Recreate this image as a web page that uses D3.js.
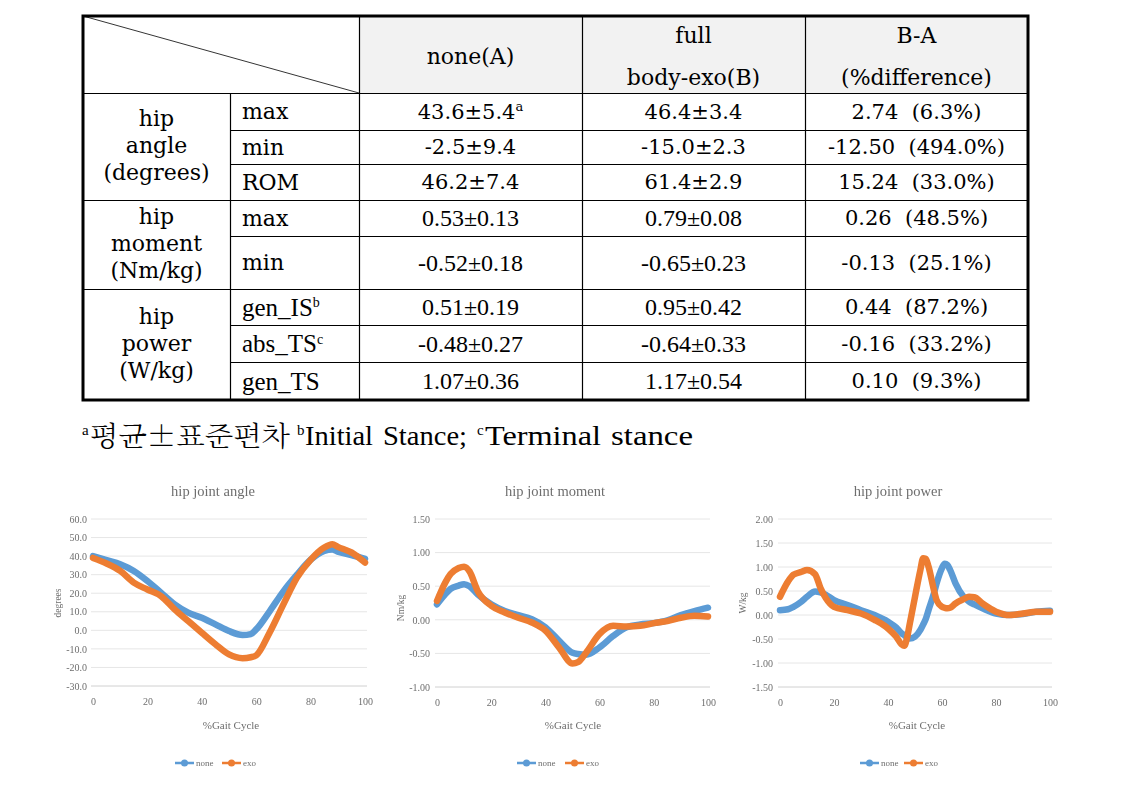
<!DOCTYPE html>
<html><head><meta charset="utf-8">
<script src="https://cdn.jsdelivr.net/npm/d3@7"></script>
<style>body{margin:0;background:#fff}svg{display:block}</style>
</head><body>
<svg id="c" width="1131" height="797"></svg>
<script>
// ---------------- TABLE DATA ----------------
const colHeaders = [["none(A)"], ["full", "body-exo(B)"], ["B-A", "(%difference)"]];
const groupLabels = [["hip", "angle", "(degrees)"], ["hip", "moment", "(Nm/kg)"], ["hip", "power", "(W/kg)"]];
const rowLabels = ["max", "min", "ROM", "max", "min", "gen_IS", "abs_TS", "gen_TS"];
const rowLabelSup = ["", "", "", "", "", "b", "c", ""];
const rowGroup = [0, 0, 0, 1, 1, 2, 2, 2];
const noneVals = ["43.6±5.4", "-2.5±9.4", "46.2±7.4", "0.53±0.13", "-0.52±0.18", "0.51±0.19", "-0.48±0.27", "1.07±0.36"];
const noneSup = ["a", "", "", "", "", "", "", ""];
const exoVals = ["46.4±3.4", "-15.0±2.3", "61.4±2.9", "0.79±0.08", "-0.65±0.23", "0.95±0.42", "-0.64±0.33", "1.17±0.54"];
const diffVals = ["2.74  (6.3%)", "-12.50  (494.0%)", "15.24  (33.0%)", "0.26  (48.5%)", "-0.13  (25.1%)", "0.44  (87.2%)", "-0.16  (33.2%)", "0.10  (9.3%)"];
const footKorean = "평균±표준편차";
const footWords = ["Initial", "Stance;", "Terminal", "stance"];

// ---------------- CHART DATA ----------------
const gaitTicks = [0, 20, 40, 60, 80, 100];
const chartTitles = ["hip joint angle", "hip joint moment", "hip joint power"];
const yTitles = ["degrees", "Nm/kg", "W/kg"];
const xTitle = "%Gait Cycle";
const seriesNames = ["none", "exo"];

const angleX    = [0, 5, 10, 15, 20, 25, 30, 35, 40, 45, 50, 55, 58, 60, 65, 70, 75, 80, 85, 88, 90, 95, 100];
const angleNone = [40, 37.8, 35.6, 32, 26.6, 20.3, 14, 9.5, 6.8, 3.2, -0.4, -2.5, -2, 0.5, 10.4, 21, 30, 38, 42.8, 43.6, 42.4, 40.6, 38.5];
const angleExo  = [39, 36, 32, 25.7, 22, 18.5, 11.3, 5, -1.3, -7.5, -13, -15, -14.5, -13.5, -1, 14, 28.4, 38, 44.6, 46.4, 45, 42, 36.5];
const angleTicks = [-30, -20, -10, 0, 10, 20, 30, 40, 50, 60];

const momentX    = [0, 3, 5, 8, 10, 12, 15, 20, 25, 30, 35, 40, 45, 50, 52, 55, 60, 65, 70, 75, 80, 85, 90, 95, 100];
const momentNone = [0.23, 0.38, 0.46, 0.51, 0.53, 0.5, 0.38, 0.23, 0.13, 0.07, 0.01, -0.11, -0.31, -0.49, -0.51, -0.52, -0.41, -0.24, -0.11, -0.07, -0.05, -0.01, 0.07, 0.13, 0.18];
const momentExo  = [0.28, 0.55, 0.68, 0.77, 0.79, 0.72, 0.43, 0.21, 0.11, 0.03, -0.04, -0.16, -0.41, -0.65, -0.63, -0.49, -0.21, -0.09, -0.1, -0.09, -0.05, -0.02, 0.03, 0.06, 0.05];
const momentTicks = [-1.0, -0.5, 0, 0.5, 1.0, 1.5];

const powerX    = [0, 3, 5, 8, 10, 13, 15, 17, 20, 25, 30, 35, 40, 43, 45, 46, 47, 48, 50, 52, 53, 54, 55, 57, 58, 60, 61, 62, 63, 65, 68, 70, 72, 75, 80, 85, 90, 95, 100];
const powerNone = [0.10, 0.12, 0.17, 0.28, 0.38, 0.49, 0.47, 0.42, 0.31, 0.21, 0.10, 0, -0.14, -0.26, -0.38, -0.42, -0.46, -0.49, -0.45, -0.31, -0.2, -0.08, 0.1, 0.45, 0.66, 0.98, 1.07, 1.04, 0.94, 0.66, 0.38, 0.28, 0.22, 0.14, 0.03, 0, 0.02, 0.07, 0.09];
const powerExo  = [0.38, 0.70, 0.84, 0.9, 0.94, 0.85, 0.56, 0.35, 0.17, 0.10, 0.03, -0.10, -0.28, -0.45, -0.61, -0.64, -0.49, -0.2, 0.38, 0.94, 1.18, 1.17, 1.01, 0.52, 0.31, 0.17, 0.15, 0.14, 0.15, 0.24, 0.33, 0.38, 0.37, 0.24, 0.07, 0, 0.03, 0.07, 0.07];
const powerTicks = [-1.5, -1.0, -0.5, 0, 0.5, 1.0, 1.5, 2.0];

// ---------------- DRAW TABLE ----------------
const svg = d3.select("#c");
const T = {left: 83, right: 1028, top: 16, bottom: 400, headBottom: 93,
  cols: [230, 359, 582, 805],
  rowEdges: [93, 130, 164, 200, 236, 289, 325, 362, 400],
  groupEdges: [93, 200, 289, 400]};
const tbl = svg.append("g");
const palFont = "'DejaVu Serif', serif";
const timesFont = "'Liberation Serif', 'Times New Roman', serif";

tbl.append("rect").attr("x", T.cols[1]).attr("y", T.top).attr("width", T.right - T.cols[1]).attr("height", T.headBottom - T.top).attr("fill", "#f2f2f2");
tbl.append("line").attr("x1", T.left).attr("y1", T.top).attr("x2", T.cols[1]).attr("y2", T.headBottom).attr("stroke", "#000").attr("stroke-width", 0.8);
T.rowEdges.slice(0, -1).forEach((y) => {
  const isGroup = T.groupEdges.includes(y);
  tbl.append("line").attr("x1", isGroup ? T.left : T.cols[0]).attr("x2", T.right).attr("y1", y + 0.5).attr("y2", y + 0.5).attr("stroke", "#000").attr("stroke-width", 1.2);
});
T.cols.forEach((x, i) => {
  tbl.append("line").attr("x1", x + 0.5).attr("x2", x + 0.5).attr("y1", i === 0 ? T.headBottom : T.top).attr("y2", T.bottom).attr("stroke", "#000").attr("stroke-width", 1.2);
});
tbl.append("rect").attr("x", T.left).attr("y", T.top).attr("width", T.right - T.left).attr("height", T.bottom - T.top).attr("fill", "none").attr("stroke", "#000").attr("stroke-width", 3);

const colCenters = [(T.cols[1] + T.cols[2]) / 2, (T.cols[2] + T.cols[3]) / 2, (T.cols[3] + T.right) / 2];
colHeaders.forEach((lines, i) => {
  const ys = lines.length === 1 ? [56] : [35, 77];
  lines.forEach((t, j) => {
    tbl.append("text").attr("x", colCenters[i]).attr("y", ys[j]).attr("dy", "0.35em").attr("text-anchor", "middle")
      .attr("font-family", palFont).attr("font-size", 22).text(t);
  });
});
groupLabels.forEach((lines, g) => {
  const cy = (T.groupEdges[g] + T.groupEdges[g + 1]) / 2;
  lines.forEach((t, j) => {
    tbl.append("text").attr("x", (T.left + T.cols[0]) / 2).attr("y", cy + (j - 1) * 27 - 1).attr("dy", "0.35em").attr("text-anchor", "middle")
      .attr("font-family", palFont).attr("font-size", 22).text(t);
  });
});
rowLabels.forEach((lab, r) => {
  const cy = (T.rowEdges[r] + T.rowEdges[r + 1]) / 2;
  const isPal = rowGroup[r] === 0;
  const lt = tbl.append("text").attr("x", 242).attr("y", cy).attr("dy", "0.35em")
    .attr("font-family", rowGroup[r] === 2 ? timesFont : palFont).attr("font-size", rowGroup[r] === 2 ? 25 : 22).text(lab);
  if (rowLabelSup[r]) lt.append("tspan").attr("dy", "-0.6em").attr("font-size", 14).text(rowLabelSup[r]);
  const vf = isPal ? palFont : timesFont, vs = isPal ? 21 : 24;
  const t1 = tbl.append("text").attr("x", colCenters[0]).attr("y", cy).attr("dy", "0.35em").attr("text-anchor", "middle")
    .attr("font-family", vf).attr("font-size", vs).text(noneVals[r]);
  if (noneSup[r]) t1.append("tspan").attr("dy", "-0.6em").attr("font-size", 13).text(noneSup[r]);
  tbl.append("text").attr("x", colCenters[1]).attr("y", cy).attr("dy", "0.35em").attr("text-anchor", "middle")
    .attr("font-family", vf).attr("font-size", vs).text(exoVals[r]);
  tbl.append("text").attr("x", colCenters[2]).attr("y", cy).attr("dy", "0.35em").attr("text-anchor", "middle")
    .attr("font-family", palFont).attr("font-size", 21).style("white-space", "pre").text(diffVals[r]);
});

// footnote
const fn = svg.append("g").attr("font-family", timesFont).attr("fill", "#000");
fn.append("text").attr("x", 82).attr("y", 435).attr("font-size", 15).text("a");
fn.append("text").attr("x", 90).attr("y", 446).attr("font-family", "'Noto Serif CJK KR', 'Noto Sans CJK KR', sans-serif").attr("font-size", 27)
  .attr("font-weight", 300).attr("textLength", 200).attr("lengthAdjust", "spacingAndGlyphs").text(footKorean);
fn.append("text").attr("x", 297).attr("y", 435).attr("font-size", 15).text("b");
fn.append("text").attr("x", 477).attr("y", 435).attr("font-size", 15).text("c");
const wordPos = [[305, 68], [383, 84], [485, 116], [611, 82]];
footWords.forEach((w, i) => {
  fn.append("text").attr("x", wordPos[i][0]).attr("y", 445).attr("font-size", 27)
    .attr("textLength", wordPos[i][1]).attr("lengthAdjust", "spacingAndGlyphs").text(w);
});

// ---------------- DRAW CHARTS ----------------
const defs = svg.append("defs");
defs.append("filter").attr("id", "blur").attr("x", "-5%").attr("y", "-5%").attr("width", "110%").attr("height", "110%")
  .append("feGaussianBlur").attr("stdDeviation", 0.7);
const colors = ["#5b9bd5", "#ed7d31"];
const chartFont = "'Liberation Serif', serif";
const textCol = "#6e6e6e";
const hyph = f => d => d3.format(f)(d).replace("\u2212", "-");

const charts = [
  {x0: 93, x1: 365, yTop: 519, yBot: 686, ticks: angleTicks, fmt: ".1f", labR: 87, cx: 213, xtx: 231, ytx: 58, yty: 603,
   xs: angleX, s: [angleNone, angleExo], leg: [175, 222]},
  {x0: 437, x1: 708, yTop: 519, yBot: 687, ticks: momentTicks, fmt: ".2f", labR: 430, cx: 555, xtx: 573, ytx: 401, yty: 608,
   xs: momentX, s: [momentNone, momentExo], leg: [517, 565]},
  {x0: 780, x1: 1050, yTop: 519, yBot: 687, ticks: powerTicks, fmt: ".2f", labR: 773, cx: 898, xtx: 917, ytx: 743, yty: 603,
   xs: powerX, s: [powerNone, powerExo], leg: [860, 904]}
];

charts.forEach((c, ci) => {
  const g = svg.append("g").attr("filter", "url(#blur)").attr("font-family", chartFont);
  const x = d3.scaleLinear().domain([0, 100]).range([c.x0, c.x1]);
  const y = d3.scaleLinear().domain([c.ticks[0], c.ticks[c.ticks.length - 1]]).range([c.yBot, c.yTop]);
  g.append("g").selectAll("line").data(c.ticks).join("line")
    .attr("x1", c.x0 - 2).attr("x2", c.x1 + 2).attr("y1", d => y(d)).attr("y2", d => y(d))
    .attr("stroke", d => d === c.ticks[0] ? "#d0d0d0" : "#e6e6e6").attr("stroke-width", 1);
  const ya = g.append("g").attr("transform", `translate(${c.x0},0)`)
    .call(d3.axisLeft(y).tickValues(c.ticks).tickFormat(hyph(c.fmt)).tickSize(0).tickPadding(c.x0 - c.labR));
  ya.select(".domain").remove();
  ya.selectAll("text").attr("font-family", chartFont).attr("font-size", 10).attr("fill", textCol);
  const xa = g.append("g").attr("transform", `translate(0,${c.yBot})`)
    .call(d3.axisBottom(x).tickValues(gaitTicks).tickFormat(d3.format("d")).tickSize(0).tickPadding(12));
  xa.select(".domain").remove();
  xa.selectAll("text").attr("font-family", chartFont).attr("font-size", 10).attr("fill", textCol);
  g.append("text").attr("x", c.cx).attr("y", 491).attr("dy", "0.35em").attr("text-anchor", "middle")
    .attr("font-size", 14.5).attr("fill", textCol).text(chartTitles[ci]);
  g.append("text").attr("x", c.xtx).attr("y", 725).attr("dy", "0.35em").attr("text-anchor", "middle")
    .attr("font-size", 11).attr("fill", textCol).text(xTitle);
  g.append("text").attr("transform", `translate(${c.ytx},${c.yty}) rotate(-90)`).attr("dy", "0.35em").attr("text-anchor", "middle")
    .attr("font-size", 9.5).attr("fill", textCol).text(yTitles[ci]);
  const line = d3.line().x(d => x(d[0])).y(d => y(d[1])).curve(d3.curveMonotoneX);
  c.s.forEach((vals, si) => {
    const pts = c.xs.map((p, k) => [p, vals[k]]);
    g.append("path").datum(pts).attr("d", line).attr("fill", "none").attr("stroke", colors[si])
      .attr("stroke-width", 6.5).attr("stroke-linejoin", "round").attr("stroke-linecap", "round");
  });
  seriesNames.forEach((n, si) => {
    const lx = c.leg[si];
    g.append("line").attr("x1", lx).attr("x2", lx + 19).attr("y1", 763).attr("y2", 763).attr("stroke", colors[si]).attr("stroke-width", 2.5);
    g.append("circle").attr("cx", lx + 9.5).attr("cy", 763).attr("r", 3.5).attr("fill", colors[si]);
    g.append("text").attr("x", lx + 21).attr("y", 763).attr("dy", "0.35em").attr("font-size", 9).attr("fill", textCol).text(n);
  });
});
</script>
</body></html>
